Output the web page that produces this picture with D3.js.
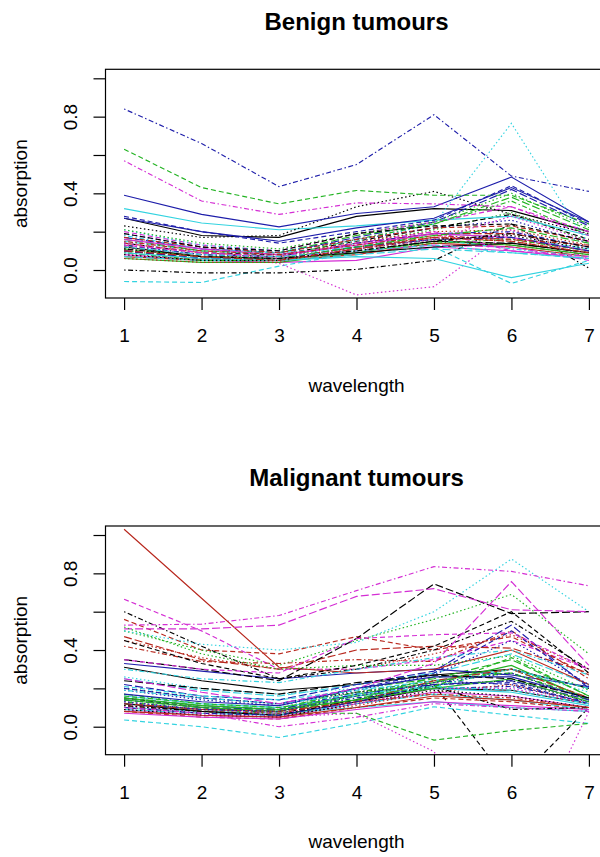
<!DOCTYPE html>
<html>
<head>
<meta charset="utf-8">
<script src="https://cdn.jsdelivr.net/npm/d3@7"></script>
<style>
  body { margin: 0; background: #fff; }
  text { font-family: "Liberation Sans", Arial, sans-serif; fill: #000; }
</style>
</head>
<body>
<script>
// wavelength index on the x axis
var wavelength = [1, 2, 3, 4, 5, 6, 7];
var xTicks = [1, 2, 3, 4, 5, 6, 7];
var yTicks = [0, 0.2, 0.4, 0.6, 0.8, 1.0];
var yLabelled = [0, 0.4, 0.8];

// one row per tumour, absorption at wavelengths 1..7
var benign = [
  [0.27,0.18,0.17,0.28,0.32,0.31,0.20],
  [0.12,0.07,0.06,0.12,0.17,0.16,0.10],
  [0.10,0.06,0.06,0.14,0.21,0.30,0.15],
  [0.84,0.66,0.435,0.55,0.81,0.49,0.41],
  [0.15,0.10,0.08,0.12,0.19,0.17,0.11],
  [0.08,0.05,0.04,0.05,0.12,0.10,0.06],
  [0.14,0.09,0.08,0.15,0.22,0.29,0.16],
  [0.11,0.07,0.07,0.15,0.20,0.21,0.13],
  [0.13,0.08,0.07,0.16,0.24,0.36,0.18],
  [0.17,0.11,0.09,0.17,0.25,0.42,0.23],
  [0.32,0.245,0.21,0.23,0.26,0.28,0.18],
  [0.20,0.13,0.10,0.19,0.25,0.33,0.18],
  [0.23,0.17,0.18,0.33,0.41,0.29,0.19],
  [0.09,0.05,0.05,0.11,0.16,0.13,0.08],
  [0.16,0.10,0.09,0.18,0.24,0.38,0.21],
  [0.39,0.29,0.225,0.295,0.33,0.485,0.25],
  [-0.06,-0.065,0.02,0.09,0.12,-0.07,0.05],
  [0.12,0.08,0.035,-0.13,-0.087,0.21,0.06],
  [0.0,-0.015,-0.015,0.003,0.05,0.24,0.01],
  [0.14,0.09,0.07,0.14,0.19,0.19,0.12],
  [0.06,0.04,0.04,0.09,0.15,0.13,0.08],
  [0.28,0.20,0.14,0.20,0.26,0.44,0.24],
  [0.21,0.13,0.10,0.15,0.24,0.765,0.13],
  [0.57,0.36,0.29,0.35,0.345,0.33,0.20],
  [0.10,0.06,0.05,0.10,0.15,0.14,0.09],
  [0.07,0.05,0.05,0.08,0.14,0.12,0.07],
  [0.63,0.43,0.345,0.415,0.39,0.39,0.24],
  [0.19,0.12,0.09,0.16,0.22,0.26,0.14],
  [0.18,0.11,0.09,0.12,0.16,0.11,0.07],
  [0.10,0.07,0.05,0.10,0.13,0.12,0.05],
  [0.12,0.07,0.06,0.09,0.12,0.14,0.09],
  [0.17,0.12,0.09,0.16,0.22,0.23,0.15],
  [0.21,0.14,0.11,0.19,0.25,0.40,0.22],
  [0.13,0.08,0.07,0.14,0.19,0.20,0.12],
  [0.07,0.05,0.05,0.08,0.11,0.09,0.06],
  [0.16,0.11,0.08,0.13,0.19,0.17,0.10],
  [0.19,0.12,0.10,0.19,0.23,0.24,0.15],
  [0.06,0.04,0.04,0.12,0.17,0.15,0.09],
  [0.09,0.05,0.05,0.10,0.14,0.16,0.10],
  [0.10,0.06,0.06,0.12,0.16,0.17,0.10],
  [0.09,0.06,0.05,0.07,0.06,-0.04,0.035],
  [0.13,0.09,0.07,0.14,0.20,0.10,0.07],
  [0.08,0.05,0.05,0.11,0.16,0.18,0.11],
  [0.15,0.10,0.08,0.13,0.18,0.16,0.13],
  [0.11,0.07,0.06,0.12,0.18,0.22,0.14],
  [0.27,0.20,0.15,0.22,0.27,0.43,0.25],
  [0.12,0.08,0.07,0.10,0.13,0.09,0.06],
  [0.14,0.09,0.06,0.11,0.16,0.28,0.15],
  [0.11,0.07,0.06,0.10,0.15,0.19,0.12],
  [0.10,0.07,0.05,0.11,0.17,0.15,0.09]
];

var malignant = [
  [0.31,0.24,0.19,0.22,0.27,0.30,0.20],
  [0.56,0.40,0.38,0.47,0.40,0.47,0.27],
  [0.50,0.40,0.32,0.45,0.56,0.69,0.38],
  [0.15,0.11,0.09,0.18,0.24,0.22,0.12],
  [0.25,0.19,0.16,0.22,0.28,0.38,0.22],
  [0.09,0.06,0.05,0.12,0.18,0.16,0.10],
  [0.15,0.10,0.07,0.14,0.22,-0.31,0.10],
  [0.45,0.36,0.30,0.30,0.38,0.48,0.30],
  [0.13,0.09,0.08,0.16,0.21,0.30,0.15],
  [0.22,0.16,0.14,0.22,0.29,0.53,0.20],
  [0.10,0.08,0.07,0.10,0.13,0.10,0.08],
  [0.665,0.50,0.30,0.30,0.35,0.45,0.30],
  [0.20,0.15,0.12,0.18,0.22,0.24,0.13],
  [0.42,0.34,0.33,0.35,0.34,0.50,0.25],
  [0.15,0.11,0.09,0.20,0.25,0.35,0.16],
  [0.33,0.29,0.25,0.28,0.30,0.27,0.21],
  [0.035,0.0,-0.056,0.017,0.104,0.06,0.017],
  [0.11,0.07,0.05,0.07,-0.13,-0.76,0.08],
  [0.60,0.42,0.25,0.30,0.40,0.55,0.30],
  [0.47,0.35,0.30,0.40,0.42,0.41,0.28],
  [0.14,0.10,0.08,0.17,0.23,0.32,0.14],
  [0.20,0.15,0.12,0.20,0.28,0.50,0.21],
  [0.50,0.43,0.40,0.44,0.60,0.875,0.60],
  [0.53,0.535,0.58,0.71,0.835,0.81,0.735],
  [0.35,0.30,0.24,0.46,0.745,0.59,0.60],
  [1.03,0.67,0.31,0.28,0.30,0.40,0.22],
  [0.12,0.09,0.07,0.07,-0.07,-0.02,0.017],
  [0.19,0.14,0.11,0.19,0.27,0.45,0.22],
  [0.30,0.25,0.23,0.30,0.36,0.40,0.27],
  [0.51,0.51,0.53,0.68,0.72,0.61,0.60],
  [0.12,0.08,0.06,0.13,0.20,0.19,0.12],
  [0.08,0.05,0.04,0.10,0.15,0.13,0.09],
  [0.52,0.38,0.30,0.32,0.32,0.37,0.19],
  [0.12,0.09,0.08,0.15,0.20,0.21,0.13],
  [0.09,0.07,0.06,0.12,0.17,0.14,0.09],
  [0.07,0.05,0.04,0.09,0.13,0.11,0.09],
  [0.45,0.33,0.25,0.32,0.42,0.60,0.28],
  [0.10,0.07,0.06,0.11,0.18,0.22,0.12],
  [0.17,0.12,0.10,0.18,0.24,0.28,0.15],
  [0.14,0.10,0.09,0.17,0.22,0.24,0.14],
  [0.16,0.12,0.10,0.16,0.20,0.18,0.11],
  [0.35,0.30,0.28,0.46,0.48,0.49,0.30],
  [0.09,0.06,0.05,0.12,0.19,0.16,0.10],
  [0.11,0.08,0.07,0.13,0.17,0.15,0.10],
  [0.14,0.10,0.08,0.14,0.26,0.28,0.14],
  [0.17,0.13,0.11,0.20,0.26,0.26,0.15],
  [0.21,0.16,0.14,0.19,0.24,0.30,0.20],
  [0.13,0.09,0.07,0.12,0.20,0.20,0.12],
  [0.11,0.08,0.06,0.14,0.21,0.09,0.10],
  [0.12,0.09,0.08,0.13,0.24,0.30,0.15],
  [0.15,0.11,0.09,0.14,0.20,0.25,0.13],
  [0.10,0.07,0.06,0.13,0.22,0.23,0.12],
  [0.26,0.20,0.17,0.20,0.21,0.30,0.18],
  [0.10,0.07,0.0,0.05,0.12,0.10,0.08],
  [0.24,0.20,0.17,0.23,0.27,0.25,0.15],
  [0.08,0.06,0.05,0.10,0.16,0.14,0.10],
  [0.16,0.12,0.10,0.16,0.21,0.36,0.16],
  [0.13,0.09,0.08,0.16,0.23,0.28,0.14],
  [0.19,0.15,0.12,0.17,0.21,0.19,0.12],
  [0.25,0.18,0.12,0.20,0.33,0.757,0.32]
];

// matplot style cycling: colours 1:6, line types 1:5
var colours = ["#000000", "#b8281e", "#22b322", "#1e1eaa", "#33d3e0", "#d42ed4"];
var dashes = ["none", "5,3", "1.5,2.5", "1.5,2.5,5,2.5", "8,3"];

var width = 600, height = 857;
var box = {left: 105.5, right: 607.5, top: 69.3, bottom: 298};
var panelShift = 456.7;

var svg = d3.select("body").append("svg")
    .attr("width", width)
    .attr("height", height);

var x = d3.scaleLinear()
    .domain([0.76, 7.24])
    .range([box.left, box.right]);

function drawPanel(rows, title, dy, id) {
  var y = d3.scaleLinear()
      .domain([-0.146, 1.047])
      .range([box.bottom + dy, box.top + dy]);

  svg.append("clipPath").attr("id", id)
    .append("rect")
      .attr("x", box.left).attr("y", box.top + dy)
      .attr("width", box.right - box.left)
      .attr("height", box.bottom - box.top);

  var line = d3.line()
      .x(function(d, i) { return x(wavelength[i]); })
      .y(function(d) { return y(d); });

  svg.append("g")
      .attr("clip-path", "url(#" + id + ")")
    .selectAll("path")
    .data(rows)
    .enter().append("path")
      .attr("d", line)
      .attr("fill", "none")
      .attr("stroke", function(d, i) { return colours[i % 6]; })
      .attr("stroke-dasharray", function(d, i) { return dashes[i % 5]; })
      .attr("stroke-width", 1.15);

  // plot frame
  svg.append("rect")
      .attr("x", box.left).attr("y", box.top + dy)
      .attr("width", box.right - box.left)
      .attr("height", box.bottom - box.top)
      .attr("fill", "none")
      .attr("stroke", "#000")
      .attr("stroke-width", 1.2);

  // x axis
  var gx = svg.append("g")
      .attr("transform", "translate(0," + (box.bottom + dy) + ")")
      .call(d3.axisBottom(x).tickValues(xTicks).tickSize(12).tickSizeOuter(0)
        .tickFormat(d3.format("d")));
  gx.select(".domain").remove();
  gx.selectAll("line").attr("stroke", "#000").attr("stroke-width", 1.2);
  gx.selectAll("text")
      .attr("y", 44).attr("dy", 0)
      .style("font-size", "19px");

  // y axis
  var gy = svg.append("g")
      .attr("transform", "translate(" + box.left + ",0)")
      .call(d3.axisLeft(y).tickValues(yTicks).tickSize(12).tickSizeOuter(0)
        .tickFormat(function(d) {
          return yLabelled.indexOf(d) >= 0 ? d3.format(".1f")(d) : "";
        }));
  gy.select(".domain").remove();
  gy.selectAll("line").attr("stroke", "#000").attr("stroke-width", 1.2);
  gy.selectAll("text")
      .attr("x", 0).attr("y", -28.5).attr("dy", 0)
      .attr("transform", "rotate(-90)")
      .attr("text-anchor", "middle")
      .style("font-size", "19px");

  // titles
  var cx = (box.left + box.right) / 2;
  svg.append("text")
      .attr("x", cx).attr("y", 29.5 + dy)
      .attr("text-anchor", "middle")
      .style("font-size", "24px")
      .style("font-weight", "bold")
      .text(title);

  svg.append("text")
      .attr("x", cx).attr("y", 391.5 + dy)
      .attr("text-anchor", "middle")
      .style("font-size", "19px")
      .text("wavelength");

  svg.append("text")
      .attr("transform", "translate(27," + ((box.top + box.bottom) / 2 + dy) + ") rotate(-90)")
      .attr("text-anchor", "middle")
      .style("font-size", "19px")
      .text("absorption");
}

drawPanel(benign, "Benign tumours", 0, "clipTop");
drawPanel(malignant, "Malignant tumours", panelShift, "clipBottom");
</script>
</body>
</html>
